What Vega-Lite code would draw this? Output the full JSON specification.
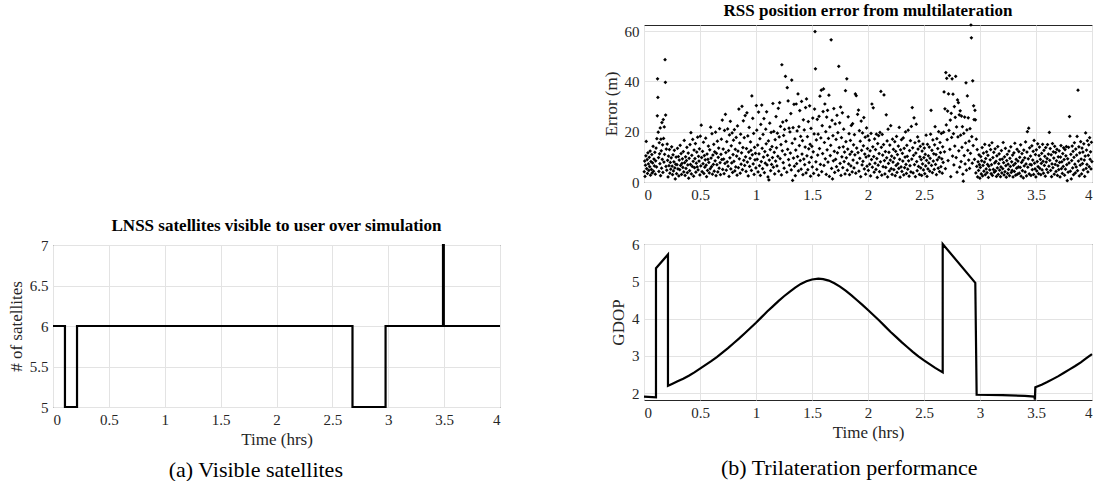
{
"$schema":"https://vega.github.io/schema/vega-lite/v6.json",
"padding":{"left":6,"top":1,"right":0,"bottom":0},
"background":"white",
"config":{
"font":"Liberation Serif, Times New Roman, serif",
"view":{"stroke":"#262626","strokeWidth":1},
"axis":{"domain":false,"grid":true,"gridColor":"#e3e3e3","gridWidth":1,"ticks":false,"labelFont":"Liberation Serif, Times New Roman, serif","labelFontSize":15,"labelColor":"#262626","labelPadding":5,"titleFont":"Liberation Serif, Times New Roman, serif","titleFontSize":17,"titleFontWeight":"normal","titleColor":"#262626","titlePadding":4},
"title":{"font":"Liberation Serif, Times New Roman, serif","fontSize":17,"fontWeight":"bold","color":"black","offset":3}
},
"hconcat":[
{
"title":{"text":"(a) Visible satellites","orient":"bottom","anchor":"middle","fontSize":22,"fontWeight":"normal","offset":12},
"spacing":0,
"vconcat":[
{"width":447,"height":191,"data":{"values":[{}]},"mark":{"type":"point","opacity":0},"encoding":{},"view":{"stroke":null}},
{"width":447,"height":162,
"title":"LNSS satellites visible to user over simulation",
"data":{"values":[{"t":0,"n":6},{"t":0.107,"n":5},{"t":0.215,"n":6},{"t":2.68,"n":5},{"t":2.976,"n":6},{"t":3.49,"n":7},{"t":3.497,"n":6},{"t":4,"n":6}]},
"mark":{"type":"line","interpolate":"step-after","color":"black","strokeWidth":2.2},
"encoding":{
"x":{"field":"t","type":"quantitative","scale":{"domain":[0,4],"nice":false},"axis":{"title":"Time (hrs)","values":[0,0.5,1,1.5,2,2.5,3,3.5,4],"format":"~r"}},
"y":{"field":"n","type":"quantitative","scale":{"domain":[5,7],"nice":false,"zero":false},"axis":{"title":"# of satellites","values":[5,5.5,6,6.5,7],"format":"~r"}}
}}
]
},
{
"title":{"text":"(b) Trilateration performance","orient":"bottom","anchor":"middle","fontSize":22,"fontWeight":"normal","offset":17},
"spacing":33,
"vconcat":[
{"width":448,"height":157,
"title":"RSS position error from multilateration",
"data":{"values":[
{"t":0.002,"e":4.1},{"t":0.006,"e":8.3},{"t":0.009,"e":2.2},{"t":0.013,"e":6.7},{"t":0.017,"e":10.4},{"t":0.02,"e":16.1},{"t":0.024,"e":5.3},{"t":0.028,"e":8.9},{"t":0.031,"e":3.4},{"t":0.035,"e":11.6},{"t":0.039,"e":7.2},{"t":0.043,"e":4.6},{"t":0.047,"e":9.8},
{"t":0.051,"e":6.1},{"t":0.055,"e":12.3},{"t":0.058,"e":2.7},{"t":0.062,"e":8.1},{"t":0.066,"e":5.0},{"t":0.07,"e":10.9},{"t":0.073,"e":3.6},{"t":0.077,"e":7.6},{"t":0.081,"e":14.2},{"t":0.085,"e":4.3},{"t":0.089,"e":9.1},{"t":0.093,"e":6.4},{"t":0.097,"e":11.8},
{"t":0.101,"e":3.1},{"t":0.104,"e":8.4},{"t":0.108,"e":13.5},{"t":0.112,"e":6.0},{"t":0.115,"e":17.2},{"t":0.119,"e":26.3},{"t":0.121,"e":41.0},{"t":0.124,"e":33.6},{"t":0.127,"e":19.8},{"t":0.13,"e":9.7},{"t":0.133,"e":4.2},{"t":0.136,"e":15.6},{"t":0.139,"e":11.2},{"t":0.142,"e":7.3},{"t":0.145,"e":21.5},{"t":0.148,"e":2.5},
{"t":0.151,"e":17.0},{"t":0.154,"e":12.4},{"t":0.157,"e":5.5},{"t":0.16,"e":23.6},{"t":0.163,"e":9.0},{"t":0.166,"e":14.8},{"t":0.169,"e":3.8},{"t":0.172,"e":24.8},{"t":0.175,"e":17.3},{"t":0.178,"e":7.9},{"t":0.181,"e":21.9},{"t":0.184,"e":11.0},{"t":0.188,"e":48.6},{"t":0.191,"e":39.6},{"t":0.193,"e":26.6},{"t":0.196,"e":6.2},{"t":0.199,"e":13.1},
{"t":0.203,"e":4.7},{"t":0.207,"e":15.1},{"t":0.211,"e":8.6},{"t":0.215,"e":2.0},{"t":0.219,"e":10.3},{"t":0.223,"e":6.5},{"t":0.227,"e":12.9},{"t":0.231,"e":3.5},{"t":0.235,"e":7.8},{"t":0.239,"e":5.1},{"t":0.243,"e":9.6},{"t":0.247,"e":14.0},
{"t":0.251,"e":6.3},{"t":0.255,"e":2.9},{"t":0.259,"e":10.8},{"t":0.263,"e":4.4},{"t":0.267,"e":8.0},{"t":0.271,"e":12.6},{"t":0.275,"e":5.6},{"t":0.279,"e":1.2},{"t":0.283,"e":7.1},{"t":0.287,"e":9.9},{"t":0.291,"e":3.3},{"t":0.295,"e":6.9},{"t":0.299,"e":13.4},
{"t":0.303,"e":5.2},{"t":0.307,"e":10.1},{"t":0.311,"e":2.4},{"t":0.315,"e":8.7},{"t":0.319,"e":4.9},{"t":0.323,"e":14.6},{"t":0.327,"e":6.6},{"t":0.331,"e":11.3},{"t":0.335,"e":3.0},{"t":0.339,"e":7.4},{"t":0.343,"e":9.2},{"t":0.347,"e":5.8},
{"t":0.351,"e":12.1},{"t":0.355,"e":4.0},{"t":0.359,"e":16.5},{"t":0.363,"e":7.7},{"t":0.367,"e":2.6},{"t":0.371,"e":10.0},{"t":0.375,"e":5.4},{"t":0.379,"e":8.5},{"t":0.383,"e":13.8},{"t":0.387,"e":3.7},{"t":0.391,"e":6.8},{"t":0.395,"e":11.5},{"t":0.399,"e":1.5},
{"t":0.403,"e":9.4},{"t":0.407,"e":4.5},{"t":0.411,"e":14.9},{"t":0.415,"e":7.0},{"t":0.419,"e":19.6},{"t":0.423,"e":3.2},{"t":0.427,"e":10.6},{"t":0.431,"e":6.2},{"t":0.435,"e":16.9},{"t":0.439,"e":8.2},{"t":0.443,"e":2.3},{"t":0.447,"e":12.7},
{"t":0.451,"e":5.7},{"t":0.455,"e":9.3},{"t":0.459,"e":15.3},{"t":0.463,"e":3.9},{"t":0.467,"e":7.5},{"t":0.471,"e":11.9},{"t":0.475,"e":6.0},{"t":0.479,"e":17.8},{"t":0.483,"e":4.8},{"t":0.487,"e":10.2},{"t":0.491,"e":8.3},{"t":0.495,"e":13.2},{"t":0.499,"e":2.8},
{"t":0.503,"e":18.2},{"t":0.507,"e":6.4},{"t":0.511,"e":22.6},{"t":0.515,"e":9.7},{"t":0.519,"e":4.1},{"t":0.523,"e":12.2},{"t":0.527,"e":7.3},{"t":0.531,"e":15.8},{"t":0.535,"e":3.4},{"t":0.539,"e":10.5},{"t":0.543,"e":5.9},{"t":0.547,"e":8.8},
{"t":0.551,"e":17.4},{"t":0.555,"e":6.7},{"t":0.559,"e":2.1},{"t":0.563,"e":11.1},{"t":0.567,"e":4.6},{"t":0.571,"e":9.0},{"t":0.575,"e":14.3},{"t":0.579,"e":7.8},{"t":0.583,"e":3.6},{"t":0.587,"e":12.8},{"t":0.591,"e":5.3},{"t":0.595,"e":21.8},{"t":0.599,"e":9.5},
{"t":0.603,"e":6.1},{"t":0.607,"e":19.2},{"t":0.611,"e":3.1},{"t":0.615,"e":10.7},{"t":0.619,"e":7.0},{"t":0.623,"e":15.0},{"t":0.627,"e":4.3},{"t":0.631,"e":12.0},{"t":0.635,"e":8.4},{"t":0.639,"e":19.8},{"t":0.643,"e":2.5},{"t":0.647,"e":11.4},
{"t":0.651,"e":6.9},{"t":0.655,"e":16.2},{"t":0.659,"e":4.0},{"t":0.663,"e":9.8},{"t":0.667,"e":13.5},{"t":0.671,"e":5.5},{"t":0.675,"e":21.2},{"t":0.679,"e":7.7},{"t":0.683,"e":2.9},{"t":0.687,"e":11.0},{"t":0.691,"e":17.0},{"t":0.695,"e":8.9},{"t":0.699,"e":24.6},
{"t":0.703,"e":5.0},{"t":0.707,"e":13.1},{"t":0.711,"e":9.1},{"t":0.715,"e":3.3},{"t":0.719,"e":20.5},{"t":0.723,"e":7.4},{"t":0.727,"e":26.9},{"t":0.731,"e":11.7},{"t":0.735,"e":4.7},{"t":0.739,"e":16.0},{"t":0.743,"e":8.0},{"t":0.747,"e":21.1},
{"t":0.751,"e":6.3},{"t":0.755,"e":12.5},{"t":0.759,"e":2.2},{"t":0.763,"e":18.7},{"t":0.767,"e":9.6},{"t":0.771,"e":24.1},{"t":0.775,"e":5.2},{"t":0.779,"e":14.4},{"t":0.783,"e":7.6},{"t":0.787,"e":19.5},{"t":0.791,"e":3.8},{"t":0.795,"e":10.9},{"t":0.799,"e":16.6},
{"t":0.803,"e":8.2},{"t":0.807,"e":20.8},{"t":0.811,"e":4.4},{"t":0.815,"e":13.0},{"t":0.819,"e":6.0},{"t":0.823,"e":17.7},{"t":0.827,"e":10.3},{"t":0.831,"e":2.7},{"t":0.835,"e":22.3},{"t":0.839,"e":12.3},{"t":0.843,"e":5.7},{"t":0.847,"e":29.0},
{"t":0.851,"e":9.2},{"t":0.855,"e":15.5},{"t":0.859,"e":3.5},{"t":0.863,"e":19.0},{"t":0.867,"e":7.1},{"t":0.871,"e":11.6},{"t":0.875,"e":30.1},{"t":0.879,"e":4.9},{"t":0.883,"e":13.7},{"t":0.887,"e":24.3},{"t":0.891,"e":8.6},{"t":0.895,"e":17.6},{"t":0.899,"e":6.6},
{"t":0.903,"e":26.4},{"t":0.907,"e":10.0},{"t":0.911,"e":4.2},{"t":0.915,"e":13.3},{"t":0.919,"e":27.5},{"t":0.923,"e":7.9},{"t":0.927,"e":18.3},{"t":0.931,"e":2.4},{"t":0.935,"e":11.9},{"t":0.939,"e":21.7},{"t":0.943,"e":6.2},{"t":0.947,"e":9.4},
{"t":0.951,"e":15.9},{"t":0.955,"e":12.6},{"t":0.959,"e":4.6},{"t":0.963,"e":34.2},{"t":0.967,"e":10.8},{"t":0.971,"e":25.3},{"t":0.975,"e":7.2},{"t":0.979,"e":19.3},{"t":0.983,"e":3.0},{"t":0.987,"e":13.8},{"t":0.991,"e":8.8},{"t":0.995,"e":11.4},{"t":0.999,"e":5.6},
{"t":1.003,"e":30.4},{"t":1.007,"e":20.6},{"t":1.011,"e":9.0},{"t":1.015,"e":14.7},{"t":1.019,"e":4.0},{"t":1.023,"e":27.8},{"t":1.027,"e":11.2},{"t":1.031,"e":6.5},{"t":1.035,"e":17.2},{"t":1.039,"e":2.6},{"t":1.043,"e":22.9},{"t":1.047,"e":8.1},
{"t":1.051,"e":30.6},{"t":1.055,"e":13.4},{"t":1.059,"e":5.3},{"t":1.063,"e":18.9},{"t":1.067,"e":9.9},{"t":1.071,"e":25.2},{"t":1.075,"e":3.7},{"t":1.079,"e":12.1},{"t":1.083,"e":7.5},{"t":1.087,"e":21.0},{"t":1.091,"e":15.2},{"t":1.095,"e":27.9},{"t":1.099,"e":6.8},
{"t":1.103,"e":10.6},{"t":1.107,"e":2.0},{"t":1.111,"e":16.3},{"t":1.115,"e":0.8},{"t":1.119,"e":8.7},{"t":1.123,"e":23.4},{"t":1.127,"e":12.9},{"t":1.131,"e":4.5},{"t":1.135,"e":19.7},{"t":1.139,"e":7.0},{"t":1.143,"e":14.1},{"t":1.147,"e":9.7},
{"t":1.151,"e":31.2},{"t":1.155,"e":5.9},{"t":1.159,"e":20.1},{"t":1.163,"e":11.8},{"t":1.167,"e":3.2},{"t":1.171,"e":16.8},{"t":1.175,"e":8.3},{"t":1.179,"e":26.0},{"t":1.183,"e":13.6},{"t":1.187,"e":6.4},{"t":1.191,"e":19.4},{"t":1.195,"e":10.2},{"t":1.199,"e":29.3},
{"t":1.203,"e":4.3},{"t":1.207,"e":17.9},{"t":1.211,"e":31.5},{"t":1.215,"e":9.3},{"t":1.219,"e":22.1},{"t":1.223,"e":14.9},{"t":1.227,"e":2.8},{"t":1.231,"e":46.6},{"t":1.235,"e":12.4},{"t":1.239,"e":23.8},{"t":1.243,"e":7.7},{"t":1.247,"e":18.5},
{"t":1.251,"e":5.5},{"t":1.255,"e":20.9},{"t":1.259,"e":10.9},{"t":1.263,"e":42.0},{"t":1.267,"e":16.1},{"t":1.271,"e":24.4},{"t":1.275,"e":3.9},{"t":1.279,"e":37.5},{"t":1.283,"e":13.0},{"t":1.287,"e":32.2},{"t":1.291,"e":8.9},{"t":1.295,"e":21.4},{"t":1.299,"e":6.7},
{"t":1.303,"e":19.9},{"t":1.307,"e":11.5},{"t":1.311,"e":27.2},{"t":1.315,"e":4.8},{"t":1.319,"e":40.5},{"t":1.323,"e":15.4},{"t":1.327,"e":0.6},{"t":1.331,"e":21.6},{"t":1.335,"e":9.5},{"t":1.339,"e":30.9},{"t":1.343,"e":6.3},{"t":1.347,"e":17.1},
{"t":1.351,"e":2.5},{"t":1.355,"e":12.7},{"t":1.359,"e":31.0},{"t":1.363,"e":7.3},{"t":1.367,"e":20.3},{"t":1.371,"e":10.1},{"t":1.375,"e":35.0},{"t":1.379,"e":4.4},{"t":1.383,"e":22.0},{"t":1.387,"e":14.5},{"t":1.391,"e":28.4},{"t":1.395,"e":8.5},{"t":1.399,"e":18.1},
{"t":1.403,"e":5.1},{"t":1.407,"e":32.0},{"t":1.411,"e":11.1},{"t":1.415,"e":16.4},{"t":1.419,"e":2.9},{"t":1.423,"e":24.7},{"t":1.427,"e":9.1},{"t":1.431,"e":20.7},{"t":1.435,"e":6.9},{"t":1.439,"e":13.9},{"t":1.443,"e":29.6},{"t":1.447,"e":3.6},
{"t":1.451,"e":33.0},{"t":1.455,"e":10.4},{"t":1.459,"e":18.0},{"t":1.463,"e":4.9},{"t":1.467,"e":24.0},{"t":1.471,"e":13.2},{"t":1.475,"e":7.8},{"t":1.479,"e":30.3},{"t":1.483,"e":15.0},{"t":1.487,"e":2.3},{"t":1.491,"e":21.3},{"t":1.495,"e":9.8},{"t":1.499,"e":14.2},
{"t":1.503,"e":6.0},{"t":1.507,"e":25.4},{"t":1.511,"e":12.0},{"t":1.515,"e":3.4},{"t":1.519,"e":19.1},{"t":1.523,"e":29.0},{"t":1.527,"e":59.8},{"t":1.531,"e":45.0},{"t":1.535,"e":8.0},{"t":1.539,"e":16.7},{"t":1.543,"e":5.0},{"t":1.547,"e":24.9},
{"t":1.551,"e":10.7},{"t":1.555,"e":19.0},{"t":1.559,"e":2.7},{"t":1.563,"e":26.1},{"t":1.567,"e":13.3},{"t":1.571,"e":34.1},{"t":1.575,"e":7.0},{"t":1.579,"e":17.5},{"t":1.583,"e":36.5},{"t":1.587,"e":4.1},{"t":1.591,"e":22.4},{"t":1.595,"e":11.3},{"t":1.599,"e":28.0},
{"t":1.603,"e":37.0},{"t":1.607,"e":6.6},{"t":1.611,"e":15.7},{"t":1.615,"e":31.0},{"t":1.619,"e":9.2},{"t":1.623,"e":20.0},{"t":1.627,"e":3.0},{"t":1.631,"e":25.8},{"t":1.635,"e":12.8},{"t":1.639,"e":28.5},{"t":1.643,"e":7.9},{"t":1.647,"e":17.3},
{"t":1.651,"e":34.5},{"t":1.655,"e":2.2},{"t":1.659,"e":21.9},{"t":1.663,"e":10.5},{"t":1.667,"e":14.6},{"t":1.671,"e":56.5},{"t":1.675,"e":5.4},{"t":1.679,"e":24.5},{"t":1.683,"e":1.2},{"t":1.687,"e":18.4},{"t":1.691,"e":8.4},{"t":1.695,"e":29.2},{"t":1.699,"e":12.2},
{"t":1.703,"e":3.8},{"t":1.707,"e":23.1},{"t":1.711,"e":9.0},{"t":1.715,"e":16.9},{"t":1.719,"e":6.1},{"t":1.723,"e":26.5},{"t":1.727,"e":11.6},{"t":1.731,"e":19.6},{"t":1.735,"e":4.6},{"t":1.739,"e":46.0},{"t":1.743,"e":13.7},{"t":1.747,"e":23.5},
{"t":1.751,"e":7.4},{"t":1.755,"e":29.8},{"t":1.759,"e":2.6},{"t":1.763,"e":17.6},{"t":1.767,"e":10.0},{"t":1.771,"e":27.5},{"t":1.775,"e":5.7},{"t":1.779,"e":14.0},{"t":1.783,"e":21.0},{"t":1.787,"e":8.1},{"t":1.791,"e":11.9},{"t":1.795,"e":3.2},{"t":1.799,"e":36.3},
{"t":1.803,"e":16.0},{"t":1.807,"e":9.6},{"t":1.811,"e":41.0},{"t":1.815,"e":4.7},{"t":1.819,"e":13.1},{"t":1.823,"e":25.9},{"t":1.827,"e":7.2},{"t":1.831,"e":19.2},{"t":1.835,"e":2.9},{"t":1.839,"e":11.0},{"t":1.843,"e":16.5},{"t":1.847,"e":6.4},
{"t":1.851,"e":22.5},{"t":1.855,"e":12.0},{"t":1.859,"e":4.0},{"t":1.863,"e":23.2},{"t":1.867,"e":8.7},{"t":1.871,"e":14.8},{"t":1.875,"e":5.6},{"t":1.879,"e":18.8},{"t":1.883,"e":10.8},{"t":1.887,"e":35.0},{"t":1.891,"e":3.5},{"t":1.895,"e":34.3},{"t":1.899,"e":13.5},
{"t":1.903,"e":7.6},{"t":1.907,"e":26.9},{"t":1.911,"e":11.7},{"t":1.915,"e":28.6},{"t":1.919,"e":4.3},{"t":1.923,"e":20.4},{"t":1.927,"e":9.4},{"t":1.931,"e":16.2},{"t":1.935,"e":2.1},{"t":1.939,"e":24.2},{"t":1.943,"e":12.6},{"t":1.947,"e":6.8},
{"t":1.951,"e":19.5},{"t":1.955,"e":8.2},{"t":1.959,"e":14.4},{"t":1.963,"e":25.6},{"t":1.967,"e":5.2},{"t":1.971,"e":11.1},{"t":1.975,"e":17.8},{"t":1.979,"e":3.1},{"t":1.983,"e":9.9},{"t":1.987,"e":21.5},{"t":1.991,"e":6.3},{"t":1.995,"e":13.3},{"t":1.999,"e":18.3},
{"t":2.003,"e":4.6},{"t":2.007,"e":10.4},{"t":2.011,"e":16.6},{"t":2.015,"e":7.1},{"t":2.019,"e":12.4},{"t":2.023,"e":2.4},{"t":2.027,"e":19.3},{"t":2.031,"e":8.9},{"t":2.035,"e":31.0},{"t":2.039,"e":5.9},{"t":2.043,"e":14.0},{"t":2.047,"e":29.5},
{"t":2.051,"e":10.1},{"t":2.055,"e":3.9},{"t":2.059,"e":17.1},{"t":2.063,"e":7.5},{"t":2.067,"e":12.9},{"t":2.071,"e":5.0},{"t":2.075,"e":19.0},{"t":2.079,"e":9.3},{"t":2.083,"e":1.8},{"t":2.087,"e":15.3},{"t":2.091,"e":6.7},{"t":2.095,"e":18.4},{"t":2.099,"e":11.3},
{"t":2.103,"e":4.1},{"t":2.107,"e":19.7},{"t":2.111,"e":8.0},{"t":2.115,"e":36.0},{"t":2.119,"e":13.8},{"t":2.123,"e":2.7},{"t":2.127,"e":18.9},{"t":2.131,"e":10.7},{"t":2.135,"e":6.1},{"t":2.139,"e":14.9},{"t":2.143,"e":34.6},{"t":2.147,"e":8.5},
{"t":2.151,"e":3.2},{"t":2.155,"e":12.1},{"t":2.159,"e":5.8},{"t":2.163,"e":26.7},{"t":2.167,"e":9.6},{"t":2.171,"e":16.3},{"t":2.175,"e":2.0},{"t":2.179,"e":21.0},{"t":2.183,"e":7.4},{"t":2.187,"e":11.8},{"t":2.191,"e":4.4},{"t":2.195,"e":14.7},{"t":2.199,"e":8.7},
{"t":2.203,"e":22.4},{"t":2.207,"e":5.3},{"t":2.211,"e":10.3},{"t":2.215,"e":3.0},{"t":2.219,"e":17.0},{"t":2.223,"e":7.9},{"t":2.227,"e":13.0},{"t":2.231,"e":4.9},{"t":2.235,"e":9.5},{"t":2.239,"e":16.0},{"t":2.243,"e":2.5},{"t":2.247,"e":12.2},
{"t":2.251,"e":6.6},{"t":2.255,"e":18.1},{"t":2.259,"e":3.8},{"t":2.263,"e":10.9},{"t":2.267,"e":7.3},{"t":2.271,"e":14.3},{"t":2.275,"e":5.4},{"t":2.279,"e":21.7},{"t":2.283,"e":9.0},{"t":2.287,"e":1.9},{"t":2.291,"e":12.8},{"t":2.295,"e":6.0},{"t":2.299,"e":16.8},
{"t":2.303,"e":4.2},{"t":2.307,"e":11.4},{"t":2.311,"e":8.3},{"t":2.315,"e":17.5},{"t":2.319,"e":2.8},{"t":2.323,"e":13.4},{"t":2.327,"e":5.7},{"t":2.331,"e":9.9},{"t":2.335,"e":19.9},{"t":2.339,"e":7.0},{"t":2.343,"e":3.4},{"t":2.347,"e":14.6},
{"t":2.351,"e":10.2},{"t":2.355,"e":5.1},{"t":2.359,"e":20.6},{"t":2.363,"e":8.4},{"t":2.367,"e":2.3},{"t":2.371,"e":12.5},{"t":2.375,"e":6.5},{"t":2.379,"e":16.4},{"t":2.383,"e":4.0},{"t":2.387,"e":22.1},{"t":2.391,"e":9.1},{"t":2.395,"e":29.6},{"t":2.399,"e":13.6},
{"t":2.403,"e":3.6},{"t":2.407,"e":10.6},{"t":2.411,"e":25.5},{"t":2.415,"e":6.9},{"t":2.419,"e":15.6},{"t":2.423,"e":2.1},{"t":2.427,"e":11.5},{"t":2.431,"e":23.0},{"t":2.435,"e":8.1},{"t":2.439,"e":4.5},{"t":2.443,"e":17.9},{"t":2.447,"e":13.1},
{"t":2.451,"e":6.2},{"t":2.455,"e":16.2},{"t":2.459,"e":3.0},{"t":2.463,"e":10.0},{"t":2.467,"e":14.2},{"t":2.471,"e":5.6},{"t":2.475,"e":8.9},{"t":2.479,"e":2.6},{"t":2.483,"e":12.3},{"t":2.487,"e":7.2},{"t":2.491,"e":15.1},{"t":2.495,"e":4.8},{"t":2.499,"e":9.7},
{"t":2.503,"e":13.5},{"t":2.507,"e":3.3},{"t":2.511,"e":11.0},{"t":2.515,"e":6.4},{"t":2.519,"e":18.6},{"t":2.523,"e":8.6},{"t":2.527,"e":2.2},{"t":2.531,"e":15.0},{"t":2.535,"e":5.2},{"t":2.539,"e":10.4},{"t":2.543,"e":7.6},{"t":2.547,"e":13.9},
{"t":2.551,"e":4.3},{"t":2.555,"e":9.4},{"t":2.559,"e":19.0},{"t":2.563,"e":28.5},{"t":2.567,"e":6.6},{"t":2.571,"e":12.6},{"t":2.575,"e":3.7},{"t":2.579,"e":16.7},{"t":2.583,"e":8.3},{"t":2.587,"e":11.2},{"t":2.591,"e":5.0},{"t":2.595,"e":14.8},{"t":2.599,"e":22.0},
{"t":2.603,"e":7.0},{"t":2.607,"e":10.9},{"t":2.611,"e":2.9},{"t":2.615,"e":17.2},{"t":2.619,"e":8.8},{"t":2.623,"e":13.3},{"t":2.627,"e":5.5},{"t":2.631,"e":20.0},{"t":2.635,"e":9.8},{"t":2.639,"e":4.1},{"t":2.643,"e":15.7},{"t":2.647,"e":11.7},
{"t":2.651,"e":6.1},{"t":2.655,"e":19.3},{"t":2.659,"e":9.2},{"t":2.663,"e":3.5},{"t":2.667,"e":14.0},{"t":2.671,"e":7.8},{"t":2.675,"e":19.8},{"t":2.679,"e":35.8},{"t":2.683,"e":12.0},{"t":2.687,"e":29.1},{"t":2.691,"e":5.3},{"t":2.695,"e":43.5},{"t":2.699,"e":22.7},
{"t":2.703,"e":41.2},{"t":2.707,"e":16.8},{"t":2.711,"e":28.2},{"t":2.715,"e":8.5},{"t":2.719,"e":35.0},{"t":2.723,"e":20.5},{"t":2.727,"e":42.3},{"t":2.731,"e":13.0},{"t":2.735,"e":24.6},{"t":2.739,"e":2.1},{"t":2.743,"e":27.3},{"t":2.747,"e":17.7},
{"t":2.751,"e":41.0},{"t":2.755,"e":10.3},{"t":2.759,"e":34.9},{"t":2.763,"e":19.2},{"t":2.767,"e":6.8},{"t":2.771,"e":30.0},{"t":2.775,"e":14.3},{"t":2.779,"e":25.7},{"t":2.783,"e":42.0},{"t":2.787,"e":9.7},{"t":2.791,"e":21.9},{"t":2.795,"e":3.9},{"t":2.799,"e":32.6},
{"t":2.803,"e":17.9},{"t":2.807,"e":31.5},{"t":2.811,"e":12.4},{"t":2.815,"e":26.7},{"t":2.819,"e":5.9},{"t":2.823,"e":28.3},{"t":2.827,"e":18.6},{"t":2.831,"e":8.1},{"t":2.835,"e":26.2},{"t":2.839,"e":13.8},{"t":2.843,"e":22.0},{"t":2.847,"e":3.1},
{"t":2.851,"e":0.3},{"t":2.855,"e":19.3},{"t":2.859,"e":10.5},{"t":2.863,"e":25.8},{"t":2.867,"e":7.2},{"t":2.871,"e":15.5},{"t":2.875,"e":39.4},{"t":2.879,"e":4.7},{"t":2.883,"e":20.7},{"t":2.887,"e":34.2},{"t":2.891,"e":12.6},{"t":2.895,"e":25.5},{"t":2.899,"e":8.7},
{"t":2.903,"e":16.2},{"t":2.907,"e":5.4},{"t":2.911,"e":21.2},{"t":2.915,"e":11.4},{"t":2.919,"e":62.4},{"t":2.923,"e":57.3},{"t":2.927,"e":18.0},{"t":2.931,"e":7.5},{"t":2.935,"e":40.2},{"t":2.939,"e":14.5},{"t":2.943,"e":30.3},{"t":2.947,"e":24.8},
{"t":2.951,"e":9.0},{"t":2.955,"e":28.5},{"t":2.959,"e":24.7},{"t":2.963,"e":3.6},{"t":2.967,"e":17.0},{"t":2.971,"e":6.2},{"t":2.975,"e":12.9},{"t":2.979,"e":2.0},{"t":2.983,"e":8.0},{"t":2.987,"e":4.6},{"t":2.991,"e":10.8},{"t":2.995,"e":6.9},{"t":2.999,"e":1.5},
{"t":3.003,"e":5.8},{"t":3.007,"e":10.1},{"t":3.011,"e":3.2},{"t":3.015,"e":8.4},{"t":3.019,"e":13.7},{"t":3.023,"e":2.4},{"t":3.027,"e":6.6},{"t":3.031,"e":11.5},{"t":3.035,"e":4.3},{"t":3.039,"e":7.9},{"t":3.043,"e":15.0},{"t":3.047,"e":2.9},
{"t":3.051,"e":9.3},{"t":3.055,"e":5.2},{"t":3.059,"e":12.0},{"t":3.063,"e":3.7},{"t":3.067,"e":7.0},{"t":3.071,"e":10.6},{"t":3.075,"e":1.8},{"t":3.079,"e":6.3},{"t":3.083,"e":14.6},{"t":3.087,"e":4.8},{"t":3.091,"e":8.8},{"t":3.095,"e":12.9},{"t":3.099,"e":3.3},
{"t":3.103,"e":6.9},{"t":3.107,"e":15.6},{"t":3.111,"e":2.6},{"t":3.115,"e":9.7},{"t":3.119,"e":5.0},{"t":3.123,"e":11.8},{"t":3.127,"e":3.9},{"t":3.131,"e":7.6},{"t":3.135,"e":13.2},{"t":3.139,"e":4.4},{"t":3.143,"e":8.2},{"t":3.147,"e":2.2},
{"t":3.151,"e":10.4},{"t":3.155,"e":5.6},{"t":3.159,"e":14.1},{"t":3.163,"e":3.0},{"t":3.167,"e":7.3},{"t":3.171,"e":11.2},{"t":3.175,"e":4.7},{"t":3.179,"e":8.9},{"t":3.183,"e":2.1},{"t":3.187,"e":6.0},{"t":3.191,"e":12.5},{"t":3.195,"e":3.6},{"t":3.199,"e":9.1},
{"t":3.203,"e":5.3},{"t":3.207,"e":15.7},{"t":3.211,"e":7.7},{"t":3.215,"e":2.8},{"t":3.219,"e":10.0},{"t":3.223,"e":4.1},{"t":3.227,"e":13.4},{"t":3.231,"e":6.5},{"t":3.235,"e":1.9},{"t":3.239,"e":8.5},{"t":3.243,"e":11.0},{"t":3.247,"e":3.4},
{"t":3.251,"e":7.1},{"t":3.255,"e":5.0},{"t":3.259,"e":12.3},{"t":3.263,"e":2.5},{"t":3.267,"e":9.4},{"t":3.271,"e":6.2},{"t":3.275,"e":14.0},{"t":3.279,"e":3.8},{"t":3.283,"e":8.0},{"t":3.287,"e":4.6},{"t":3.291,"e":10.7},{"t":3.295,"e":2.0},{"t":3.299,"e":6.7},
{"t":3.303,"e":11.6},{"t":3.307,"e":4.2},{"t":3.311,"e":15.4},{"t":3.315,"e":7.4},{"t":3.319,"e":2.7},{"t":3.323,"e":9.0},{"t":3.327,"e":5.5},{"t":3.331,"e":13.0},{"t":3.335,"e":3.1},{"t":3.339,"e":8.3},{"t":3.343,"e":6.0},{"t":3.347,"e":12.1},
{"t":3.351,"e":3.5},{"t":3.355,"e":9.8},{"t":3.359,"e":5.8},{"t":3.363,"e":14.8},{"t":3.367,"e":2.3},{"t":3.371,"e":7.8},{"t":3.375,"e":11.3},{"t":3.379,"e":4.5},{"t":3.383,"e":8.6},{"t":3.387,"e":1.6},{"t":3.391,"e":12.7},{"t":3.395,"e":6.4},{"t":3.399,"e":9.6},
{"t":3.403,"e":4.0},{"t":3.407,"e":15.9},{"t":3.411,"e":7.2},{"t":3.415,"e":2.4},{"t":3.419,"e":11.9},{"t":3.423,"e":20.0},{"t":3.427,"e":5.9},{"t":3.431,"e":9.2},{"t":3.435,"e":21.4},{"t":3.439,"e":3.2},{"t":3.443,"e":13.6},{"t":3.447,"e":7.0},
{"t":3.451,"e":10.3},{"t":3.455,"e":2.6},{"t":3.459,"e":6.8},{"t":3.463,"e":14.4},{"t":3.467,"e":4.9},{"t":3.471,"e":8.7},{"t":3.475,"e":12.2},{"t":3.479,"e":3.0},{"t":3.483,"e":16.5},{"t":3.487,"e":7.5},{"t":3.491,"e":5.2},{"t":3.495,"e":10.9},{"t":3.499,"e":2.0},
{"t":3.503,"e":12.8},{"t":3.507,"e":4.4},{"t":3.511,"e":8.1},{"t":3.515,"e":15.2},{"t":3.519,"e":6.1},{"t":3.523,"e":3.3},{"t":3.527,"e":10.5},{"t":3.531,"e":13.9},{"t":3.535,"e":5.4},{"t":3.539,"e":9.0},{"t":3.543,"e":2.9},{"t":3.547,"e":7.4},
{"t":3.551,"e":11.4},{"t":3.555,"e":4.8},{"t":3.559,"e":15.0},{"t":3.563,"e":8.2},{"t":3.567,"e":3.5},{"t":3.571,"e":12.6},{"t":3.575,"e":6.6},{"t":3.579,"e":10.2},{"t":3.583,"e":2.3},{"t":3.587,"e":13.7},{"t":3.591,"e":7.9},{"t":3.595,"e":5.0},{"t":3.599,"e":9.3},
{"t":3.603,"e":14.9},{"t":3.607,"e":3.8},{"t":3.611,"e":11.1},{"t":3.615,"e":6.3},{"t":3.619,"e":19.7},{"t":3.623,"e":8.6},{"t":3.627,"e":13.3},{"t":3.631,"e":4.6},{"t":3.635,"e":10.8},{"t":3.639,"e":2.1},{"t":3.643,"e":7.2},{"t":3.647,"e":15.3},
{"t":3.651,"e":5.7},{"t":3.655,"e":12.0},{"t":3.659,"e":9.5},{"t":3.663,"e":3.1},{"t":3.667,"e":14.2},{"t":3.671,"e":7.0},{"t":3.675,"e":11.7},{"t":3.679,"e":4.2},{"t":3.683,"e":8.4},{"t":3.687,"e":13.0},{"t":3.691,"e":2.6},{"t":3.695,"e":6.5},{"t":3.699,"e":10.0},
{"t":3.703,"e":4.9},{"t":3.707,"e":12.4},{"t":3.711,"e":7.8},{"t":3.715,"e":2.0},{"t":3.719,"e":9.9},{"t":3.723,"e":14.5},{"t":3.727,"e":5.3},{"t":3.731,"e":8.0},{"t":3.735,"e":3.4},{"t":3.739,"e":11.3},{"t":3.743,"e":6.2},{"t":3.747,"e":13.6},
{"t":3.751,"e":8.9},{"t":3.755,"e":2.7},{"t":3.759,"e":12.9},{"t":3.763,"e":5.1},{"t":3.767,"e":10.4},{"t":3.771,"e":14.1},{"t":3.775,"e":6.9},{"t":3.779,"e":0.5},{"t":3.783,"e":9.2},{"t":3.787,"e":3.9},{"t":3.791,"e":13.8},{"t":3.795,"e":7.6},{"t":3.799,"e":26.0},
{"t":3.803,"e":18.2},{"t":3.807,"e":4.3},{"t":3.811,"e":11.0},{"t":3.815,"e":1.2},{"t":3.819,"e":8.5},{"t":3.823,"e":14.3},{"t":3.827,"e":5.6},{"t":3.831,"e":12.2},{"t":3.835,"e":2.9},{"t":3.839,"e":9.8},{"t":3.843,"e":15.6},{"t":3.847,"e":7.1},
{"t":3.851,"e":3.6},{"t":3.855,"e":13.1},{"t":3.859,"e":6.0},{"t":3.863,"e":10.7},{"t":3.867,"e":18.1},{"t":3.871,"e":4.5},{"t":3.875,"e":36.5},{"t":3.879,"e":8.3},{"t":3.883,"e":14.0},{"t":3.887,"e":2.4},{"t":3.891,"e":11.6},{"t":3.895,"e":6.7},{"t":3.899,"e":16.0},
{"t":3.903,"e":9.1},{"t":3.907,"e":3.2},{"t":3.911,"e":13.5},{"t":3.915,"e":7.3},{"t":3.919,"e":11.9},{"t":3.923,"e":4.8},{"t":3.927,"e":15.2},{"t":3.931,"e":8.7},{"t":3.935,"e":2.2},{"t":3.939,"e":10.3},{"t":3.943,"e":19.5},{"t":3.947,"e":5.4},
{"t":3.951,"e":12.7},{"t":3.955,"e":7.0},{"t":3.959,"e":16.4},{"t":3.963,"e":4.0},{"t":3.967,"e":10.6},{"t":3.971,"e":14.8},{"t":3.975,"e":6.1},{"t":3.979,"e":17.6},{"t":3.983,"e":9.0},{"t":3.987,"e":12.0},{"t":3.991,"e":5.2},{"t":3.995,"e":15.8},{"t":3.999,"e":8.1}
]},
"mark":{"type":"point","shape":"diamond","filled":true,"size":14,"color":"black","opacity":1},
"encoding":{
"x":{"field":"t","type":"quantitative","scale":{"domain":[0,4],"nice":false},"axis":{"title":null,"values":[0,0.5,1,1.5,2,2.5,3,3.5,4],"format":"~r"}},
"y":{"field":"e","type":"quantitative","scale":{"domain":[0,62.4],"nice":false},"axis":{"title":"Error (m)","values":[0,20,40,60],"format":"~r"}}
}},
{"width":448,"height":156,
"data":{"values":[
{"i":0,"t":0,"g":1.91},{"i":1,"t":0.107,"g":1.89},{"i":2,"t":0.107,"g":5.35},{"i":3,"t":0.214,"g":5.72},{"i":4,"t":0.214,"g":2.2},
{"i":5,"t":0.25,"g":2.25},{"i":6,"t":0.3,"g":2.32},{"i":7,"t":0.35,"g":2.39},{"i":8,"t":0.4,"g":2.47},{"i":9,"t":0.45,"g":2.56},{"i":10,"t":0.5,"g":2.66},{"i":11,"t":0.55,"g":2.76},{"i":12,"t":0.6,"g":2.86},{"i":13,"t":0.65,"g":2.97},{"i":14,"t":0.7,"g":3.09},{"i":15,"t":0.75,"g":3.21},{"i":16,"t":0.8,"g":3.34},{"i":17,"t":0.85,"g":3.47},{"i":18,"t":0.9,"g":3.61},{"i":19,"t":0.95,"g":3.75},{"i":20,"t":1.0,"g":3.89},{"i":21,"t":1.05,"g":4.04},{"i":22,"t":1.1,"g":4.19},{"i":23,"t":1.15,"g":4.33},{"i":24,"t":1.2,"g":4.47},{"i":25,"t":1.25,"g":4.6},{"i":26,"t":1.3,"g":4.72},{"i":27,"t":1.35,"g":4.83},{"i":28,"t":1.4,"g":4.93},{"i":29,"t":1.45,"g":5.0},{"i":30,"t":1.5,"g":5.05},{"i":31,"t":1.557,"g":5.07},{"i":32,"t":1.6,"g":5.06},{"i":33,"t":1.65,"g":5.02},{"i":34,"t":1.7,"g":4.95},{"i":35,"t":1.75,"g":4.86},{"i":36,"t":1.8,"g":4.75},{"i":37,"t":1.85,"g":4.63},{"i":38,"t":1.9,"g":4.5},{"i":39,"t":1.95,"g":4.37},{"i":40,"t":2.0,"g":4.23},{"i":41,"t":2.05,"g":4.09},{"i":42,"t":2.1,"g":3.95},{"i":43,"t":2.15,"g":3.8},{"i":44,"t":2.2,"g":3.65},{"i":45,"t":2.25,"g":3.51},{"i":46,"t":2.3,"g":3.37},{"i":47,"t":2.35,"g":3.24},{"i":48,"t":2.4,"g":3.11},{"i":49,"t":2.45,"g":2.99},{"i":50,"t":2.5,"g":2.88},{"i":51,"t":2.55,"g":2.78},{"i":52,"t":2.6,"g":2.68},{"i":53,"t":2.667,"g":2.56},
{"i":54,"t":2.667,"g":6.0},{"i":55,"t":2.958,"g":4.96},{"i":56,"t":2.97,"g":1.96},{"i":57,"t":3.2,"g":1.95},{"i":58,"t":3.4,"g":1.93},{"i":59,"t":3.485,"g":1.91},{"i":60,"t":3.49,"g":1.83},{"i":61,"t":3.494,"g":2.16},
{"i":62,"t":3.55,"g":2.23},{"i":63,"t":3.6,"g":2.3},{"i":64,"t":3.65,"g":2.38},{"i":65,"t":3.7,"g":2.46},{"i":66,"t":3.75,"g":2.55},{"i":67,"t":3.8,"g":2.64},{"i":68,"t":3.85,"g":2.73},{"i":69,"t":3.9,"g":2.83},{"i":70,"t":3.95,"g":2.94},{"i":71,"t":4.0,"g":3.05}
]},
"mark":{"type":"line","color":"black","strokeWidth":2.2},
"encoding":{
"x":{"field":"t","type":"quantitative","scale":{"domain":[0,4],"nice":false},"axis":{"title":"Time (hrs)","values":[0,0.5,1,1.5,2,2.5,3,3.5,4],"format":"~r"}},
"y":{"field":"g","type":"quantitative","scale":{"domain":[1.82,6],"nice":false,"zero":false},"axis":{"title":"GDOP","values":[2,3,4,5,6],"format":"~r"}},
"order":{"field":"i","type":"quantitative"}
}}
]
}
],
"spacing":96
}
